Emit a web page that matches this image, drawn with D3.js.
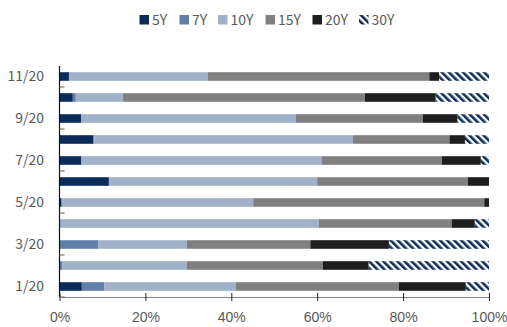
<!DOCTYPE html>
<html>
<head>
<meta charset="utf-8">
<script src="https://cdn.jsdelivr.net/npm/d3@7"></script>
<style>
  html, body { margin: 0; padding: 0; background: #fff; }
  svg { display: block; font-family: "Noto Sans CJK SC", "Noto Sans", sans-serif; }
</style>
</head>
<body>
<svg id="chart" width="507" height="327"></svg>
<script>
// Monthly maturity mix (% of total), one row per month
const months = ["1/20", "2/20", "3/20", "4/20", "5/20", "6/20", "7/20", "8/20", "9/20", "10/20", "11/20"];
const tenors = ["5Y", "7Y", "10Y", "15Y", "20Y", "30Y"];
const y5  = [5.2, 0.0, 0.0, 0.0, 0.5, 11.5, 5.1, 7.9, 5.0, 3.1, 2.2];
const y7  = [5.2, 0.7, 9.0, 0.0, 0.0, 0.0, 0.0, 0.2, 0.0, 0.7, 0.0];
const y10 = [30.6, 28.9, 20.6, 60.4, 44.6, 48.5, 55.9, 60.2, 50.0, 11.0, 32.3];
const y15 = [38.0, 31.7, 28.8, 30.9, 53.8, 35.1, 28.0, 22.5, 29.6, 56.3, 51.6];
const y20 = [15.6, 10.7, 18.3, 5.4, 1.1, 4.9, 9.1, 3.6, 8.1, 16.5, 2.3];
const y30 = [5.4, 28.0, 23.3, 3.3, 0.0, 0.0, 1.9, 5.6, 7.3, 12.4, 11.6];
const xTicks = [0, 0.2, 0.4, 0.6, 0.8, 1];
const colors = ["#0b2c58", "#6180a8", "#a1b1ca", "#808080", "#1e1e1e", "url(#hatch30)"];

const rows = months.map((m, i) => ({
  month: m, "5Y": y5[i], "7Y": y7[i], "10Y": y10[i], "15Y": y15[i], "20Y": y20[i], "30Y": y30[i]
}));

const svg = d3.select("#chart");
const margin = { left: 59.5, right: 18, top: 66, bottom: 30 };
const W = 507, H = 327;

const defs = svg.append("defs");
const pat = defs.append("pattern")
  .attr("id", "hatch30")
  .attr("patternUnits", "userSpaceOnUse")
  .attr("width", 5).attr("height", 5)
  .attr("patternTransform", "rotate(-45)");
pat.append("rect").attr("width", 5).attr("height", 5).attr("fill", "#ffffff");
pat.append("rect").attr("width", 2.6).attr("height", 5).attr("fill", "#0b2c58");

const x = d3.scaleLinear().domain([0, 1]).range([margin.left, W - margin.right]);
const y = d3.scaleBand().domain(months.slice().reverse())
  .range([margin.top, H - margin.bottom]).paddingInner(0).paddingOuter(0);
const barH = 8.6;

const color = d3.scaleOrdinal().domain(tenors).range(colors);
const series = d3.stack().keys(tenors).offset(d3.stackOffsetExpand)(rows);

svg.append("g").selectAll("g")
  .data(series).join("g")
  .attr("fill", d => color(d.key))
  .selectAll("rect")
  .data(d => d).join("rect")
  .attr("x", d => x(d[0]))
  .attr("width", d => Math.max(0, x(d[1]) - x(d[0])))
  .attr("y", d => y(d.data.month) + (y.bandwidth() - barH) / 2)
  .attr("height", barH);

// x axis
const xAxis = svg.append("g")
  .attr("transform", `translate(0,${H - margin.bottom})`)
  .call(d3.axisBottom(x).tickValues(xTicks).tickFormat(d3.format(".0%")).tickSize(0).tickPadding(15));
xAxis.select(".domain").attr("stroke", "#808080").attr("stroke-width", 1.2);
xAxis.selectAll(".tick text").attr("fill", "#595959").attr("font-size", 14);
xAxis.selectAll(".tick").append("line")
  .attr("y1", -4).attr("y2", 4).attr("stroke", "#222").attr("stroke-width", 1);

// y axis: labels on every other month, ticks at the bottom of labelled rows
const labelled = months.filter((m, i) => i % 2 === 0);
const yAxis = svg.append("g").attr("transform", `translate(${margin.left},0)`);
yAxis.append("line")
  .attr("x1", 0).attr("x2", 0)
  .attr("y1", margin.top).attr("y2", H - margin.bottom)
  .attr("stroke", "#111").attr("stroke-width", 1.2);
yAxis.selectAll("line.tk")
  .data(labelled).join("line").attr("class", "tk")
  .attr("x1", 0).attr("x2", 5)
  .attr("y1", d => y(d) + y.bandwidth())
  .attr("y2", d => y(d) + y.bandwidth())
  .attr("stroke", "#777").attr("stroke-width", 1.2);
yAxis.selectAll("text")
  .data(labelled).join("text")
  .attr("x", -15.5)
  .attr("y", d => y(d) + y.bandwidth() / 2)
  .attr("dy", "0.35em")
  .attr("text-anchor", "end")
  .attr("fill", "#595959")
  .attr("font-size", 14)
  .text(d => d);

// legend
const legendX = [139.5, 179.5, 218, 265.5, 312.5, 359];
const lg = svg.append("g").selectAll("g")
  .data(tenors).join("g")
  .attr("transform", (d, i) => `translate(${legendX[i]},15)`);
lg.append("rect").attr("width", 9.5).attr("height", 9.5).attr("fill", d => color(d));
lg.append("text")
  .attr("x", 12.5).attr("y", 4.8).attr("dy", "0.35em")
  .attr("fill", "#595959").attr("font-size", 14)
  .text(d => d);
</script>
</body>
</html>
